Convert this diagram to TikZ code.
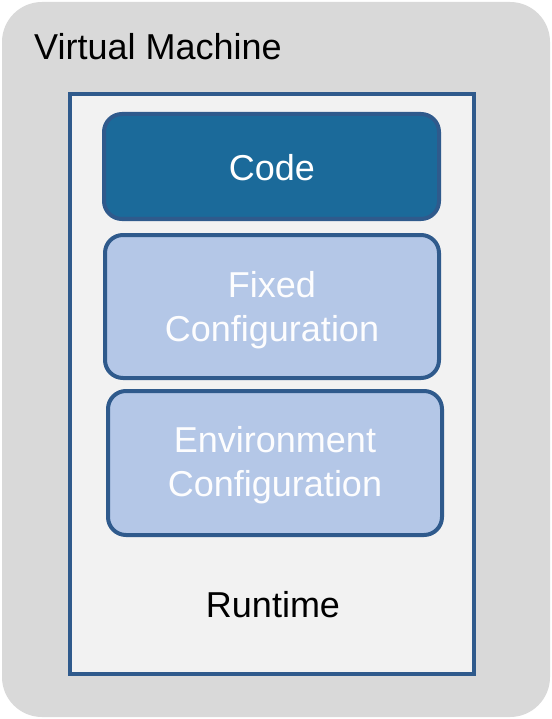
\documentclass[tikz,border=0pt]{standalone}
\usepackage{fontspec}
\setmainfont{Liberation Sans}
\definecolor{vmgray}{HTML}{D9D9D9}
\definecolor{rtfill}{HTML}{F2F2F2}
\definecolor{edgeblue}{HTML}{2F5A8C}
\definecolor{codeblue}{HTML}{1B6A9A}
\definecolor{lightblue}{HTML}{B4C7E7}
\tikzset{
  layer/.style={draw=edgeblue, line width=4pt, rounded corners=18pt},
  lbl/.style={font=\fontsize{36}{44}\selectfont, align=center, inner sep=0pt},
}
\begin{document}
\begin{tikzpicture}[x=1pt, y=-1pt]
  \useasboundingbox (0,0) rectangle (551,719);
  % virtual machine shell
  \fill[vmgray, rounded corners=40pt] (2,2) rectangle (550,717);
  \node[lbl, anchor=west] (vm) at (34,47) {Virtual Machine};
  % runtime container
  \draw[edgeblue, fill=rtfill, line width=4.5pt] (70,94) rectangle (474,674);
  \node[lbl] (rt) at (273,605) {Runtime};
  % stacked layers
  \draw[layer, fill=codeblue] (104,114) rectangle (439,219);
  \node[lbl, text=white] (code) at (272,168) {Code};
  \draw[layer, fill=lightblue] (105,235) rectangle (439,378);
  \node[lbl, text=white!97!lightblue] (fixed) at (272,310) {Fixed\\Configuration};
  \draw[layer, fill=lightblue] (108,391) rectangle (442,535);
  \node[lbl, text=white!97!lightblue] (env) at (275,465) {Environment\\Configuration};
\end{tikzpicture}
\end{document}
